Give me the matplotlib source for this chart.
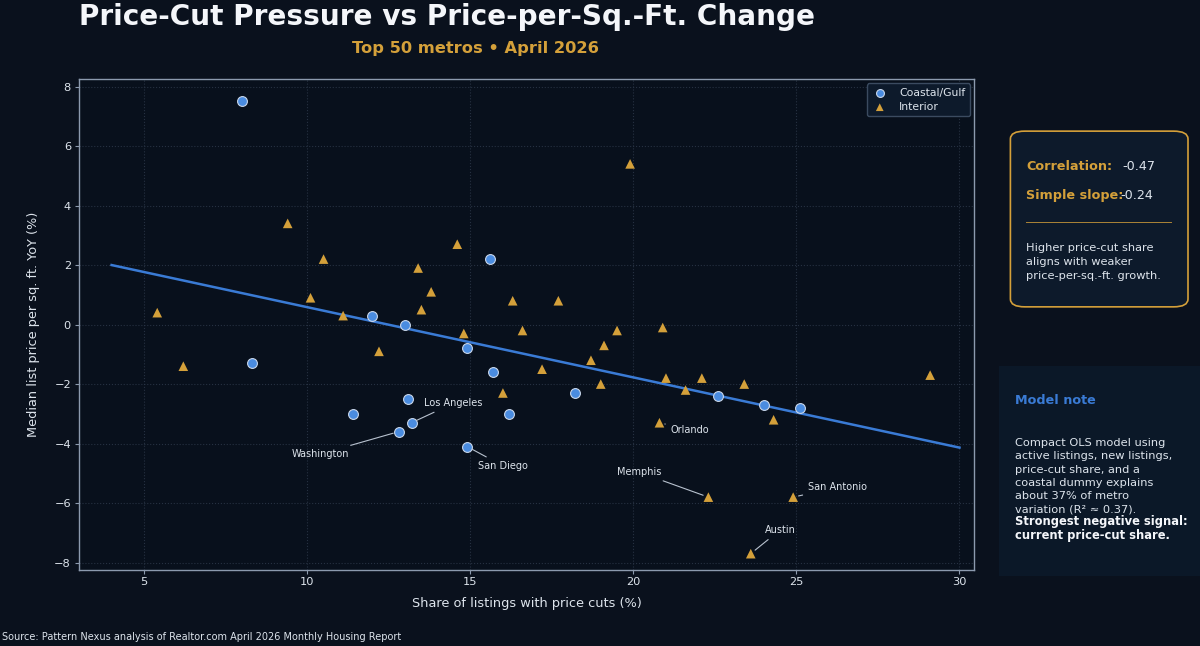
import numpy as np
import matplotlib
matplotlib.use("Agg")
import matplotlib.pyplot as plt
from matplotlib.patches import FancyBboxPatch, Rectangle

# --- data ---
coastal_cut = [8.0, 8.3, 15.6, 12.0, 13.0, 14.9, 15.7, 18.2, 13.1, 11.4, 16.2,
               13.2, 12.8, 14.9, 22.6, 24.0, 25.1]
coastal_ppsf = [7.5, -1.3, 2.2, 0.3, 0.0, -0.8, -1.6, -2.3, -2.5, -3.0, -3.0,
                -3.3, -3.6, -4.1, -2.4, -2.7, -2.8]

interior_cut = [5.4, 6.2, 9.4, 10.5, 10.1, 11.1, 13.4, 13.8, 13.5, 14.6, 16.3,
                12.2, 14.8, 17.7, 16.6, 16.0, 17.2, 18.7, 19.1, 19.0, 19.5,
                20.9, 21.0, 21.6, 22.1, 23.4, 24.3, 20.8, 19.9, 29.1, 22.3,
                24.9, 23.6]
interior_ppsf = [0.4, -1.4, 3.4, 2.2, 0.9, 0.3, 1.9, 1.1, 0.5, 2.7, 0.8,
                 -0.9, -0.3, 0.8, -0.2, -2.3, -1.5, -1.2, -0.7, -2.0, -0.2,
                 -0.1, -1.8, -2.2, -1.8, -2.0, -3.2, -3.3, 5.4, -1.7, -5.8,
                 -5.8, -7.7]

# simple OLS line as drawn in the reference
fit_x = [4, 30]
fit_slope = -0.236
fit_intercept = 2.944

labels = ["Los Angeles", "Washington", "San Diego", "Orlando", "Memphis",
          "San Antonio", "Austin"]
label_pts = [(13.2, -3.3), (12.8, -3.6), (14.9, -4.1), (20.8, -3.3),
             (22.3, -5.8), (24.9, -5.8), (23.6, -7.7)]
label_offsets = [(30, 14), (-56, -16), (26, -14), (22, -5), (-50, 18),
                 (32, 7), (21, 17)]

card_lines = ["Higher price-cut share", "aligns with weaker",
              "price-per-sq.-ft. growth."]
note_lines = ["Compact OLS model using", "active listings, new listings,",
              "price-cut share, and a", "coastal dummy explains",
              "about 37% of metro", "variation (R\u00b2 \u2248 0.37)."]
note_bold = ["Strongest negative signal:", "current price-cut share."]

BG = "#0a111d"
AX_BG = "#08101c"
BLUE = "#4a8ce0"
LINE_BLUE = "#3a7bd5"
GOLD = "#d4a03a"
TEXT = "#dde4ec"
SPINE = "#8c9aae"
H = 646.0  # figure height in px, used to place panel text lines


def put_lines(lines, x, y_px, step_px, **kw):
    # one text per line so the line pitch matches the reference exactly
    for i, line in enumerate(lines):
        fig.text(x, 1 - (y_px + i * step_px) / H, line, va="center", **kw)


plt.rcParams["font.family"] = ["DejaVu Sans"]

fig = plt.figure(figsize=(12, 6.46), dpi=100, facecolor=BG)
ax = fig.add_axes([0.0658, 0.1176, 0.746, 0.760])
ax.set_facecolor(AX_BG)

ax.grid(True, color="#2a3546", linestyle=":", linewidth=0.8, alpha=0.9)
ax.set_axisbelow(True)

fx = np.array(fit_x, dtype=float)
ax.plot(fx, fit_intercept + fit_slope * fx, color=LINE_BLUE, lw=1.8, zorder=2)

ax.scatter(coastal_cut, coastal_ppsf, s=50, marker="o", color=BLUE,
           edgecolor="#c8d6ea", linewidth=0.8, label="Coastal/Gulf", zorder=3)
ax.scatter(interior_cut, interior_ppsf, s=48, marker="^", color=GOLD,
           edgecolor="none", label="Interior", zorder=3)

for name, (px, py), off in zip(labels, label_pts, label_offsets):
    ax.annotate(name, (px, py), xytext=off, textcoords="offset points",
                ha="center", va="center", fontsize=7, color=TEXT,
                arrowprops=dict(arrowstyle="-", color="#b8c2cf", lw=0.8,
                                shrinkA=2, shrinkB=4), zorder=4)

ax.set_xlim(3.0, 30.45)
ax.set_ylim(-8.25, 8.25)
ax.set_xticks([5, 10, 15, 20, 25, 30])
ax.set_yticks(range(-8, 9, 2))
ax.tick_params(colors=SPINE, labelcolor=TEXT, labelsize=8.2, length=2.8)
ax.tick_params(axis="x", pad=2.5)
ax.tick_params(axis="y", pad=3)
for sp in ax.spines.values():
    sp.set_color(SPINE)
    sp.set_linewidth(1.0)
ax.set_xlabel("Share of listings with price cuts (%)", color=TEXT,
              fontsize=9.3, labelpad=7)
ax.set_ylabel("Median list price per sq. ft. YoY (%)", color=TEXT,
              fontsize=9.3, labelpad=10)

ax.legend(loc="upper right", fontsize=7.8, facecolor="#0d1a2b",
          edgecolor="#3b4b60", labelcolor=TEXT, framealpha=1,
          borderpad=0.4, labelspacing=0.4, handlelength=1.6,
          handletextpad=1.0, borderaxespad=0.4, markerscale=0.8)

fig.text(0.066, 0.995, "Price-Cut Pressure vs Price-per-Sq.-Ft. Change",
         color="#f4f6fa", fontsize=20.1, weight="bold", va="top")
fig.text(0.396, 0.925, "Top 50 metros \u2022 April 2026", color=GOLD,
         fontsize=11.7, weight="bold", ha="center", va="center")
fig.text(0.002, 0.006, "Source: Pattern Nexus analysis of Realtor.com April 2026 Monthly Housing Report",
         color=TEXT, fontsize=7, va="bottom")

# stats card
card = FancyBboxPatch((0.842, 0.525), 0.148, 0.272, transform=fig.transFigure,
                      boxstyle="round,pad=0,rounding_size=0.012",
                      facecolor="#0d1a2b", edgecolor=GOLD, linewidth=1.2)
fig.patches.append(card)
fig.text(0.855, 1 - 167 / H, "Correlation:", color=GOLD, fontsize=9.2,
         weight="bold", va="center")
fig.text(0.935, 1 - 167 / H, "-0.47", color=TEXT, fontsize=9.2, va="center")
fig.text(0.855, 1 - 196 / H, "Simple slope:", color=GOLD, fontsize=9.2,
         weight="bold", va="center")
fig.text(0.934, 1 - 196 / H, "-0.24", color=TEXT, fontsize=9.2, va="center")
fig.add_artist(plt.Line2D([0.855, 0.976], [1 - 222 / H, 1 - 222 / H],
                          transform=fig.transFigure, color=GOLD, lw=0.7,
                          alpha=0.8))
put_lines(card_lines, 0.855, 248, 14, color=TEXT, fontsize=8.2)

# model note panel
note = Rectangle((0.8325, 0.108), 0.17, 0.326, transform=fig.transFigure,
                 facecolor="#0b1828", edgecolor="none")
fig.patches.append(note)
fig.text(0.846, 1 - 400 / H, "Model note", color=LINE_BLUE, fontsize=9.2,
         weight="bold", va="center")
put_lines(note_lines, 0.846, 443, 13.26, color=TEXT, fontsize=8.2)
put_lines(note_bold, 0.846, 522, 13.26, color="#f4f6fa", fontsize=8.3,
          weight="bold")

fig.savefig("out.png", dpi=100, facecolor=BG)
